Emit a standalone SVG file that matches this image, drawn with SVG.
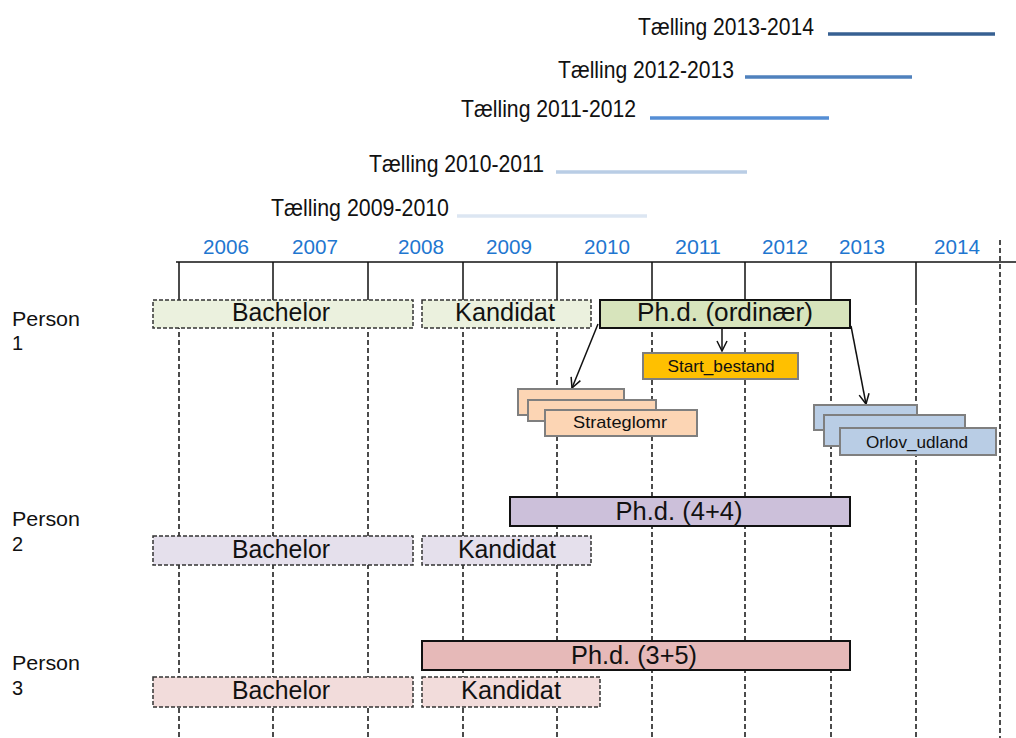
<svg xmlns="http://www.w3.org/2000/svg" width="1016" height="738" viewBox="0 0 1016 738">
<style>
text{font-family:"Liberation Sans",Arial,sans-serif;fill:#111}
.tl{font-size:24px;text-anchor:end}
.yr{font-size:19.5px;fill:#1f77d0;text-anchor:middle}
.per{font-size:20px}
.lbl{font-size:26px;text-anchor:middle}
.sm{font-size:17px;text-anchor:middle}
.grid{stroke:#111;stroke-width:1.5;stroke-dasharray:5,3;fill:none}
.tick{stroke:#111;stroke-width:1.5;fill:none}
.dash{stroke:#333;stroke-width:1.5;stroke-dasharray:4,2}
.solid{stroke:#111;stroke-width:2}
.sub{stroke:#7f7f7f;stroke-width:2}
.conn{stroke:#111;stroke-width:1.5;fill:none;marker-end:url(#arr)}
</style>
<defs>
<marker id="arr" viewBox="0 0 12 12" refX="11" refY="6" markerWidth="12" markerHeight="12" markerUnits="userSpaceOnUse" orient="auto">
<polyline points="1,1 11,6 1,11" fill="none" stroke="#111" stroke-width="1.5"/>
</marker>
</defs>
<rect width="1016" height="738" fill="#fff"/>

<g id="counts">
<text class="tl" x="814" y="35" textLength="176" lengthAdjust="spacingAndGlyphs">Tælling 2013-2014</text>
<line x1="828" y1="34" x2="995" y2="34" stroke="#376092" stroke-width="3.5"/>
<text class="tl" x="734" y="78" textLength="176" lengthAdjust="spacingAndGlyphs">Tælling 2012-2013</text>
<line x1="745" y1="77" x2="912" y2="77" stroke="#4f81bd" stroke-width="3.5"/>
<text class="tl" x="636" y="117" textLength="175" lengthAdjust="spacingAndGlyphs">Tælling 2011-2012</text>
<line x1="650" y1="118" x2="829" y2="118" stroke="#558ed5" stroke-width="3.5"/>
<text class="tl" x="544" y="172" textLength="175" lengthAdjust="spacingAndGlyphs">Tælling 2010-2011</text>
<line x1="556" y1="172" x2="747" y2="172" stroke="#b9cde5" stroke-width="3.5"/>
<text class="tl" x="449" y="216" textLength="178" lengthAdjust="spacingAndGlyphs">Tælling 2009-2010</text>
<line x1="457" y1="216" x2="647" y2="216" stroke="#dce6f2" stroke-width="3.5"/>
</g>

<g id="axis">
<text class="yr" x="226" y="254" textLength="46" lengthAdjust="spacingAndGlyphs">2006</text>
<text class="yr" x="315" y="254" textLength="46" lengthAdjust="spacingAndGlyphs">2007</text>
<text class="yr" x="421" y="254" textLength="46" lengthAdjust="spacingAndGlyphs">2008</text>
<text class="yr" x="509" y="254" textLength="46" lengthAdjust="spacingAndGlyphs">2009</text>
<text class="yr" x="607" y="254" textLength="46" lengthAdjust="spacingAndGlyphs">2010</text>
<text class="yr" x="698" y="254" textLength="46" lengthAdjust="spacingAndGlyphs">2011</text>
<text class="yr" x="785" y="254" textLength="46" lengthAdjust="spacingAndGlyphs">2012</text>
<text class="yr" x="862" y="254" textLength="46" lengthAdjust="spacingAndGlyphs">2013</text>
<text class="yr" x="957" y="254" textLength="46" lengthAdjust="spacingAndGlyphs">2014</text>
<line x1="176" y1="262" x2="1016" y2="262" class="tick" stroke-width="2"/>
<path class="tick" d="M179 262V300M273 262V300M368 262V300M463 262V300M557 262V300M652 262V300M745 262V300M831 262V300M916 262V300"/>
<path class="grid" d="M179 300V738M273 300V738M368 300V738M463 300V738M557 300V738M652 300V738M745 300V738M831 300V738M916 300V738M1000 240V738"/>
</g>

<g id="persons">
<text class="per" x="12" y="326" textLength="68" lengthAdjust="spacingAndGlyphs">Person</text>
<text class="per" x="12" y="350">1</text>
<text class="per" x="12" y="526" textLength="68" lengthAdjust="spacingAndGlyphs">Person</text>
<text class="per" x="12" y="551">2</text>
<text class="per" x="12" y="670" textLength="68" lengthAdjust="spacingAndGlyphs">Person</text>
<text class="per" x="12" y="695">3</text>
</g>

<g id="connectors">
<line class="conn" x1="598" y1="324" x2="572" y2="388"/>
<line class="conn" x1="722" y1="328" x2="722" y2="351"/>
<line class="conn" x1="851" y1="326" x2="866" y2="404"/>
</g>

<g id="p1-bachelor"><rect class="dash" x="153" y="300" width="260" height="28" fill="#ebf1de"/><text class="lbl" x="281" y="321" textLength="98" lengthAdjust="spacingAndGlyphs">Bachelor</text></g>
<g id="p1-kandidat"><rect class="dash" x="422" y="300" width="169" height="28" fill="#ebf1de"/><text class="lbl" x="505" y="321" textLength="100" lengthAdjust="spacingAndGlyphs">Kandidat</text></g>
<g id="p1-phd"><rect class="solid" x="600" y="300" width="250" height="28" fill="#d7e4bc"/><text class="lbl" x="725" y="321" textLength="176" lengthAdjust="spacingAndGlyphs">Ph.d. (ordinær)</text></g>

<g id="start-bestand"><rect class="sub" x="643" y="353" width="155" height="26" fill="#ffc000"/><text class="sm" x="721" y="372" textLength="107" lengthAdjust="spacingAndGlyphs">Start_bestand</text></g>

<g id="strateglomr">
<rect class="sub" x="518" y="389" width="106" height="26" fill="#fcd5b4"/>
<rect class="sub" x="528" y="400" width="128" height="21" fill="#fcd5b4"/>
<rect class="sub" x="545" y="410" width="152" height="26" fill="#fcd5b4"/>
<text class="sm" x="620" y="428" textLength="94" lengthAdjust="spacingAndGlyphs">Strateglomr</text>
</g>

<g id="orlov-udland">
<rect class="sub" x="814" y="405" width="103" height="25" fill="#b9cde5"/>
<rect class="sub" x="824" y="415" width="141" height="31" fill="#b9cde5"/>
<rect class="sub" x="840" y="428" width="156" height="27" fill="#b9cde5"/>
<text class="sm" x="917" y="448" textLength="102" lengthAdjust="spacingAndGlyphs">Orlov_udland</text>
</g>

<g id="p2-phd"><rect class="solid" x="510" y="497" width="340" height="29" fill="#ccc0da"/><text class="lbl" x="679" y="520" textLength="127" lengthAdjust="spacingAndGlyphs">Ph.d. (4+4)</text></g>
<g id="p2-bachelor"><rect class="dash" x="153" y="536" width="260" height="29" fill="#e5e0ec"/><text class="lbl" x="281" y="558" textLength="98" lengthAdjust="spacingAndGlyphs">Bachelor</text></g>
<g id="p2-kandidat"><rect class="dash" x="422" y="536" width="169" height="29" fill="#e5e0ec"/><text class="lbl" x="507" y="558" textLength="98" lengthAdjust="spacingAndGlyphs">Kandidat</text></g>

<g id="p3-phd"><rect class="solid" x="422" y="641" width="428" height="29" fill="#e6b9b8"/><text class="lbl" x="634" y="664" textLength="126" lengthAdjust="spacingAndGlyphs">Ph.d. (3+5)</text></g>
<g id="p3-bachelor"><rect class="dash" x="153" y="677" width="260" height="30" fill="#f2dcdb"/><text class="lbl" x="281" y="699" textLength="98" lengthAdjust="spacingAndGlyphs">Bachelor</text></g>
<g id="p3-kandidat"><rect class="dash" x="422" y="677" width="178" height="30" fill="#f2dcdb"/><text class="lbl" x="511" y="699" textLength="100" lengthAdjust="spacingAndGlyphs">Kandidat</text></g>
</svg>
